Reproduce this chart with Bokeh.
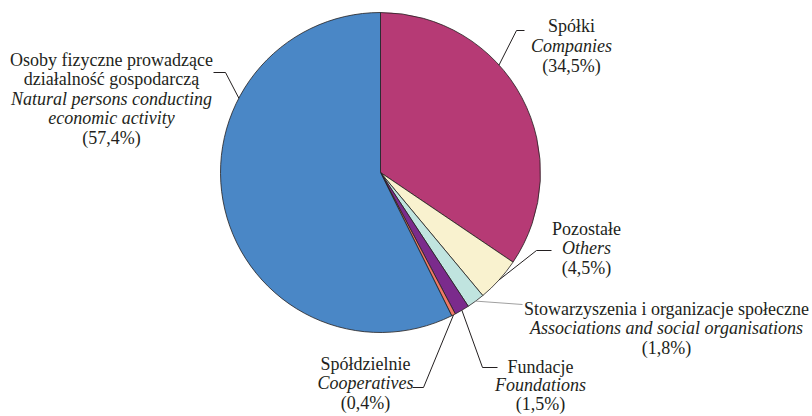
import math
from bokeh.plotting import figure
from bokeh.models import Range1d, ColumnDataSource
from bokeh.core.properties import value
from bokeh.embed import file_html
from bokeh.resources import INLINE

# ---- data ----
categories_pl = ["Spółki", "Pozostałe", "Stowarzyszenia i organizacje społeczne",
                 "Fundacje", "Spółdzielnie",
                 "Osoby fizyczne prowadzące\ndziałalność gospodarczą"]
categories_en = ["Companies", "Others", "Associations and social organisations",
                 "Foundations", "Cooperatives",
                 "Natural persons conducting\neconomic activity"]
shares = [34.5, 4.5, 1.8, 1.5, 0.4, 57.4]
colors = ["#b63a75", "#f9f2cf", "#c0e4df", "#7b2b8c", "#f07a66", "#4a87c6"]

# ---- layout (page pixel coordinates) ----
CX, CY, R = 380, 172, 160
FS = "18px"
TXT = "#231f20"
label_layout = [
    dict(cx=571, by=25, step=20.0, edge=47.8, pts=[(516, 30), (524, 30)], lc=TXT),
    dict(cx=586, by=228, step=19.5, edge=None, pts=[(536, 250), (551, 250)], lc=TXT),
    dict(cx=666, by=308, step=19.5, edge=None, pts=[(522, 304)], lc="#a0a0a0"),
    dict(cx=540, by=366, step=18.5, edge=None, pts=[(482, 367), (497, 367)], lc=TXT),
    dict(cx=365, by=363, step=19.5, edge=None, pts=[(423, 387), (412, 387)], lc=TXT),
    dict(cx=111, by=59, step=19.5, edge=297.7, pts=[(225, 72), (213, 72)], lc=TXT),
]

W, H = 812, 416
p = figure(width=W, height=H, output_backend="svg", toolbar_location=None,
           x_range=Range1d(0, W), y_range=Range1d(-H, 0),
           min_border=0, background_fill_color="white")
p.axis.visible = False
p.grid.visible = False
p.outline_line_color = None

total = sum(shares)
starts, ends, mids = [], [], []
cum = 0.0
for s in shares:
    a0 = cum / total * 360.0
    cum += s
    a1 = cum / total * 360.0
    starts.append(math.radians(90 - a0))
    ends.append(math.radians(90 - a1))
    mids.append((a0 + a1) / 2)

src = ColumnDataSource(dict(x=[CX] * len(shares), y=[-CY] * len(shares),
                            start=starts, end=ends, color=colors))
p.wedge(x="x", y="y", radius=R, start_angle="start", end_angle="end",
        direction="clock", fill_color="color", line_color=TXT, line_width=0.8,
        source=src)

for i, lay in enumerate(label_layout):
    theta = math.radians(lay["edge"] if lay["edge"] is not None else mids[i])
    ex = CX + R * math.sin(theta)
    ey = CY - R * math.cos(theta)
    xs = [ex] + [q[0] for q in lay["pts"]]
    ys = [-ey] + [-q[1] for q in lay["pts"]]
    p.line(xs, ys, line_color=lay["lc"], line_width=1)

    lines = []
    for t in categories_pl[i].split("\n"):
        lines.append((t, False))
    for t in categories_en[i].split("\n"):
        lines.append((t, True))
    lines.append((("(%.1f%%)" % shares[i]).replace(".", ","), False))
    for k, (t, it) in enumerate(lines):
        kw = dict(text_font_style="italic") if it else {}
        p.text(x=[lay["cx"]], y=[-(lay["by"] + k * lay["step"])], text=[t],
               text_font=value("Liberation Serif"), text_font_size=FS,
               text_align="center", text_baseline="alphabetic",
               text_color=TXT, **kw)

open("out.html", "w").write(file_html(p, INLINE))
